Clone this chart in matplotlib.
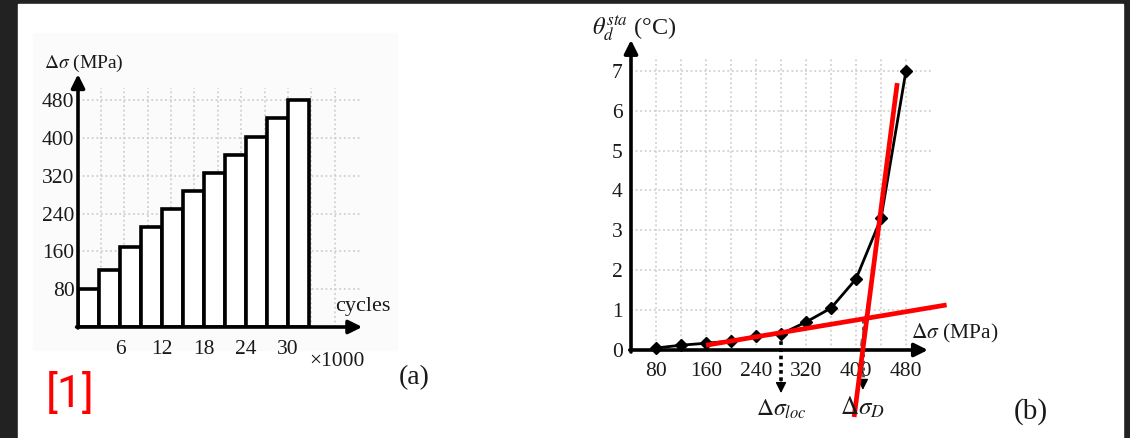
import numpy as np
import matplotlib
matplotlib.use("Agg")
import matplotlib.pyplot as plt
from matplotlib.patches import Rectangle

plt.rcParams["font.family"] = ["Liberation Serif", "DejaVu Serif"]
plt.rcParams["mathtext.fontset"] = "stix"

# ---- data: (a) stepwise loading blocks ----
block_start_kcycles = [0, 3, 6, 9, 12, 15, 18, 21, 24, 27, 30]
block_len_kcycles = 3
block_stress = [80, 120, 170, 212, 250, 288, 325, 364, 402, 442, 480]
a_xticks = [6, 12, 18, 24, 30]
a_yticks = [80, 160, 240, 320, 400, 480]

# ---- data: (b) stabilised temperature rise vs stress amplitude ----
stress_amp = [80, 120, 160, 200, 240, 280, 320, 360, 400, 440, 480]
theta_sta = [0.05, 0.12, 0.17, 0.22, 0.35, 0.40, 0.70, 1.05, 1.78, 3.30, 7.00]
b_xticks = [80, 160, 240, 320, 400, 480]
b_yticks = [0, 1, 2, 3, 4, 5, 6, 7]

# fitted straight lines (two-line method)
low_fit_x = [160, 545]
low_fit_y = [0.12, 1.13]
high_fit_x = [397, 466]
high_fit_y = [-1.68, 6.69]
# dashed guide segments
guide_low_x = [280, 320, 360, 402]
guide_low_y = [0.40, 0.56, 0.66, 0.76]
guide_high_x = [408, 432]
guide_high_y = [0.10, 2.40]
sigma_loc = 280
sigma_loc_theta = 0.40
sigma_D = 411

W, H = 1130, 438
TXT = "#1a1a1a"
TICK_FS = 15.5

fig = plt.figure(figsize=(W / 100, H / 100), dpi=100)
fig.patch.set_facecolor("#222222")
fig.add_artist(Rectangle((18 / W, 0), (1123 - 18) / W, (H - 4) / H,
                         transform=fig.transFigure, color="white", zorder=-10))
fig.add_artist(Rectangle((33 / W, 1 - 350 / H), (397 - 33) / W, (350 - 33) / H,
                         transform=fig.transFigure, color="#fbfbfb", zorder=-9))


def ftext(x, y, s, **kw):
    kw.setdefault("ha", "center")
    kw.setdefault("va", "center")
    kw.setdefault("color", TXT)
    fig.text(x / W, 1 - y / H, s, **kw)


def axes_px(left, top, right, bottom):
    return fig.add_axes([left / W, 1 - bottom / H, (right - left) / W, (bottom - top) / H])


arrow_kw = dict(arrowstyle="-|>", color="black", lw=2.6, mutation_scale=20,
                shrinkA=0, shrinkB=0)
head_kw = dict(arrowstyle="-|>", color="black", lw=1, mutation_scale=16,
               shrinkA=0, shrinkB=0)
grid_kw = dict(colors="#c9c9c9", linestyles=(0, (1.2, 1.8)), lw=1.1, zorder=0)

# ================= panel (a) =================
axa = axes_px(78, 327 - 540 * 0.4725, 78 + 42 * 7, 327)
axa.set_xlim(0, 42)
axa.set_ylim(0, 540)
axa.patch.set_alpha(0)
for s in axa.spines.values():
    s.set_visible(False)

axa.hlines(a_yticks, 0, 40.6, **grid_kw)
axa.vlines(np.linspace(3.24, 36.7, 11), 0, 506, **grid_kw)

axa.bar(block_start_kcycles, block_stress, width=block_len_kcycles, align="edge",
        facecolor="white", edgecolor="black", lw=2.6, zorder=2)

axa.annotate("", xy=(40.6, 0), xytext=(-0.2, 0), arrowprops=arrow_kw, zorder=3)
axa.annotate("", xy=(0, 535), xytext=(0, -2), arrowprops=arrow_kw, zorder=3)

axa.set_xticks(a_xticks)
axa.set_yticks(a_yticks)
axa.tick_params(length=0, labelsize=TICK_FS, labelcolor=TXT)
axa.tick_params(axis="x", pad=9)
axa.tick_params(axis="y", pad=2.5)

ftext(84, 63, r"$\Delta\sigma$ (MPa)", fontsize=14)
ftext(363, 307, "cycles", fontsize=16)
ftext(337, 362, "×1000", fontsize=15.5)
ftext(414, 378, "(a)", fontsize=20)
fig.text(70 / W, 1 - 407 / H, "[1]", fontsize=32, color="#ff0000",
         family="Roboto", fontweight="normal", ha="center", va="baseline")

# ================= panel (b) =================
xs, ys = 0.625, 39.9
axb = axes_px(631, 350 - 8 * ys, 631 + 520 * xs, 350 + 2.2 * ys)
axb.set_xlim(40, 560)
axb.set_ylim(-2.2, 8)
axb.patch.set_alpha(0)
for s in axb.spines.values():
    s.set_color("none")
axb.spines["bottom"].set_position(("data", 0))

axb.hlines(b_yticks[1:], 40, 523, **grid_kw)
axb.vlines(np.arange(80, 481, 40), 0, 7.32, **grid_kw)

axb.plot(guide_low_x, guide_low_y, color="#7a7a7a", ls=(0, (3, 2)), lw=1.8, zorder=2)
axb.plot(guide_high_x, guide_high_y, color="#7a7a7a", ls=(0, (3, 2)), lw=1.8, zorder=2)

axb.plot(stress_amp, theta_sta, color="black", lw=2.0, marker="D", ms=6.5, zorder=4)

axb.plot(low_fit_x, low_fit_y, color="#ff0000", lw=3.4, zorder=5, solid_capstyle="butt")
axb.plot(high_fit_x, high_fit_y, color="#ff0000", lw=3.4, zorder=5, solid_capstyle="butt")

axb.annotate("", xy=(515, 0), xytext=(38, 0), arrowprops=arrow_kw, zorder=3)
axb.annotate("", xy=(40, 7.77), xytext=(40, -0.05), arrowprops=arrow_kw, zorder=3)

# threshold markers
axb.plot([sigma_loc, sigma_loc], [sigma_loc_theta, -0.85], color="black",
         ls=(0, (1, 1)), lw=2.6, zorder=3)
axb.annotate("", xy=(sigma_loc, -1.08), xytext=(sigma_loc, -0.8), arrowprops=head_kw, zorder=3)
axb.plot([sigma_D, sigma_D], [0.75, -0.8], color="#555555", ls=(0, (1, 1.2)), lw=2.2, zorder=3)
axb.annotate("", xy=(sigma_D, -1.0), xytext=(sigma_D, -0.75), arrowprops=head_kw, zorder=3)

axb.set_xticks(b_xticks)
axb.set_yticks(b_yticks)
axb.tick_params(length=0, labelsize=TICK_FS, labelcolor=TXT)
axb.tick_params(axis="x", pad=9)
axb.tick_params(axis="y", pad=6)

ftext(634, 28, r"$\theta_d^{sta}$ (°C)", fontsize=17.5)
ftext(955, 333, r"$\Delta\sigma$ (MPa)", fontsize=15.5)
ftext(781, 409, r"$\Delta\sigma_{loc}$", fontsize=17)
ftext(862, 407, r"$\Delta\sigma_D$", fontsize=18)
ftext(1031, 412, "(b)", fontsize=21)

fig.savefig("out.png", dpi=100, facecolor=fig.get_facecolor())
